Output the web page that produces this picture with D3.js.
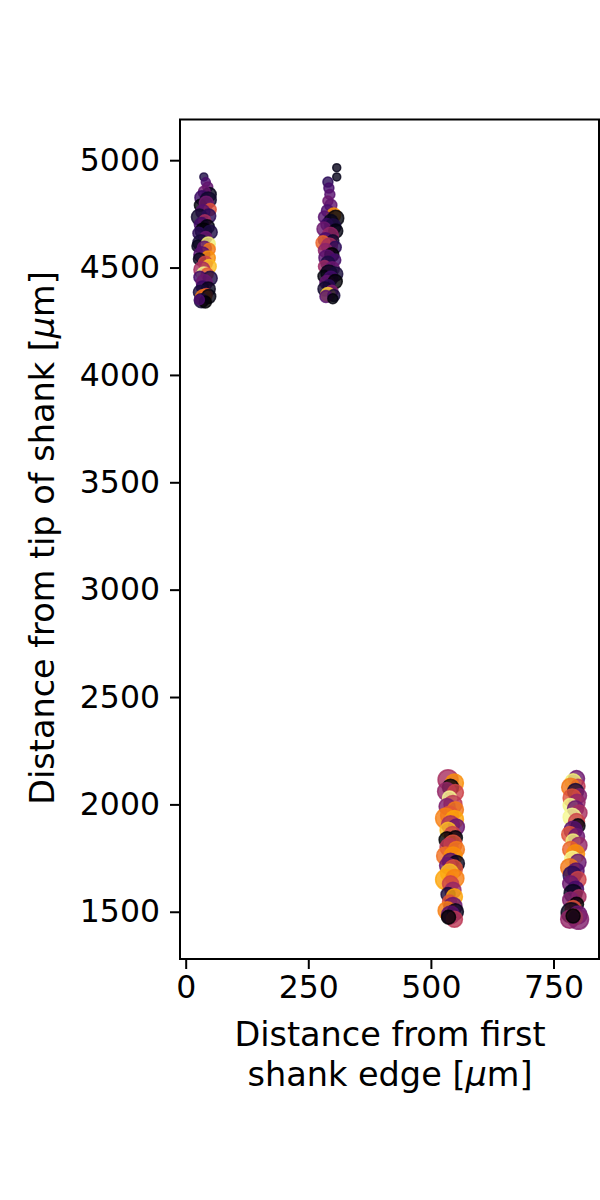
<!DOCTYPE html>
<html>
<head>
<meta charset="utf-8">
<script src="https://cdn.jsdelivr.net/npm/d3@7"></script>
<style>
  body { margin: 0; padding: 0; background: #fff; overflow: hidden; }
  text { font-family: "DejaVu Sans", sans-serif; fill: #000; }
</style>
</head>
<body>
<script>
// units per shank: x position [um], depth [um], marker radius [px], colour value (0..1, inferno)
const shank1X = [37,41,45,48,38,33,46,30,42,50,35,28,47,39,32,44,36,27,50,41,31,25,46,38,48,33,46,28,40,48,33,37,44,29,50,38,34,46,30,42,36,47,32,40,28];
const shank1Y = [4922,4898,4875,4840,4852,4825,4815,4790,4800,4770,4760,4735,4740,4718,4700,4690,4670,4660,4665,4640,4615,4600,4610,4590,4585,4560,4545,4540,4520,4505,4490,4470,4470,4455,4450,4430,4410,4400,4385,4375,4360,4365,4345,4340,4350];
const shank1R = [4,4.5,5,7,6,7,8,6,7,6,7,8,7,6,7,7,8,6,7,6,8,6,7,7,6,8,7,6,7,7,8,7,6,6,7,8,6,7,7,6,8,7,7,6,5];
const shank1C = [0.12,0.22,0.28,0.05,0.3,0.18,0.08,0.02,0.32,0.6,0.25,0.08,0.15,0.45,0.2,0.03,0.01,0.15,0.12,0.3,0.1,0.05,0.95,0.28,0.7,0.25,0.75,0.05,0.55,0.85,0.45,0.97,0.62,0.2,0.12,0.3,0.18,0.05,0.1,0.6,0.7,0.03,0.1,0.0,0.22];

const shank2X = [308,308,290,292,294,290,296,289,302,283,306,296,288,300,282,306,295,285,300,280,293,305,285,298,288,304,290,283,299,292,306,282,296,288,305,292,284,298,290,302,286,300];
const shank2Y = [4965,4922,4898,4870,4840,4810,4790,4765,4745,4735,4730,4715,4700,4690,4680,4670,4650,4630,4625,4615,4600,4595,4580,4560,4545,4535,4520,4505,4495,4475,4470,4460,4450,4430,4435,4415,4400,4390,4375,4370,4365,4355];
const shank2R = [4,4,5,5,5,5,6,6,7,6,8,7,6,8,7,7,8,7,6,7,8,6,7,7,8,6,7,6,7,8,7,6,7,7,7,6,7,6,7,6,6,5];
const shank2C = [0.05,0.05,0.15,0.2,0.25,0.3,0.28,0.22,0.75,0.25,0.02,0.05,0.18,0.12,0.3,0.03,0.4,0.22,0.08,0.65,0.45,0.15,0.38,0.0,0.25,0.2,0.12,0.42,0.3,0.05,0.1,0.02,0.2,0.28,0.01,0.15,0.08,0.35,0.88,0.1,0.25,0.02];

const shank3X = [535,548,540,532,550,538,545,533,550,538,530,548,540,552,535,544,550,533,545,537,552,530,545,540,552,534,546,538,530,549,540,545,535,548,538,545,533,550,540,548,536];
const shank3Y = [2115,2100,2080,2060,2055,2030,2000,1990,1975,1950,1935,1930,1905,1895,1880,1860,1845,1835,1815,1800,1790,1760,1760,1735,1725,1715,1700,1680,1650,1655,1630,1600,1580,1570,1545,1525,1505,1500,1485,1465,1475];
const shank3R = [10,9,8,9,8,7,9,8,8,9,10,9,9,8,8,8,7,8,9,9,8,9,9,8,8,8,9,9,10,9,8,8,7,8,7,9,9,8,9,8,7];
const shank3C = [0.45,0.75,0.02,0.4,0.55,0.98,0.5,0.35,0.7,0.62,0.72,0.8,0.45,0.3,0.85,0.55,0.02,0.0,0.6,0.5,0.7,0.68,0.75,0.25,0.05,0.3,0.6,0.85,0.8,0.72,0.55,0.4,0.1,0.8,0.6,0.3,0.72,0.05,0.25,0.5,0.0];

const shank4X = [797,790,800,785,795,803,788,798,784,795,802,788,797,800,790,783,797,790,802,785,795,789,800,783,796,788,800,785,795,790,802,785,797,790,786,800,793,783,801,790];
const shank4Y = [2120,2105,2085,2080,2060,2040,2030,2010,1995,1980,1960,1940,1920,1900,1880,1860,1850,1830,1810,1790,1770,1745,1730,1705,1690,1670,1650,1630,1605,1585,1570,1555,1535,1515,1495,1485,1475,1465,1465,1480];
const shank4R = [8,8,7,9,8,7,9,8,7,8,8,9,8,7,9,8,8,7,8,8,9,8,8,9,8,9,8,8,8,9,7,8,7,8,10,9,8,9,10,7];
const shank4C = [0.3,0.95,0.5,0.7,0.1,0.35,0.6,0.4,0.97,0.3,0.45,0.98,0.55,0.02,0.25,0.6,0.3,0.96,0.4,0.65,0.75,0.98,0.3,0.7,0.25,0.15,0.55,0.3,0.2,0.05,0.45,0.35,0.0,0.6,0.05,0.3,0.75,0.4,0.35,0.0];

const xTicks = [0, 250, 500, 750];
const yTicks = [1500, 2000, 2500, 3000, 3500, 4000, 4500, 5000];

const shanks = [
  [shank1X, shank1Y, shank1R, shank1C],
  [shank2X, shank2Y, shank2R, shank2C],
  [shank3X, shank3Y, shank3R, shank3C],
  [shank4X, shank4Y, shank4R, shank4C]
];
const points = shanks.flatMap(s => s[0].map((x, i) => ({x: x, y: s[1][i], r: s[2][i], c: s[3][i]})));

const width = 600, height = 1200;
const plotLeft = 180, plotRight = 599, plotTop = 119.5, plotBottom = 959;

const svg = d3.select("body").append("svg")
  .attr("width", width)
  .attr("height", height);

const x = d3.scaleLinear().domain([-11.6, 842.8]).range([plotLeft, plotRight]);
const y = d3.scaleLinear().domain([1280, 5189.5]).range([plotBottom, plotTop]);

svg.append("g")
  .selectAll("circle")
  .data(points)
  .enter().append("circle")
  .attr("cx", d => x(d.x))
  .attr("cy", d => y(d.y))
  .attr("r", d => d.r)
  .style("fill", d => d3.interpolateInferno(d.c))
  .style("stroke", d => d3.interpolateInferno(d.c))
  .style("stroke-width", 1.5)
  .style("fill-opacity", 0.8)
  .style("stroke-opacity", 0.8);

// axes
const xAxis = svg.append("g")
  .attr("transform", `translate(0,${plotBottom})`)
  .call(d3.axisBottom(x).tickValues(xTicks).tickSize(10).tickPadding(7));
const yAxis = svg.append("g")
  .attr("transform", `translate(${plotLeft},0)`)
  .call(d3.axisLeft(y).tickValues(yTicks).tickSize(10).tickPadding(10).tickFormat(d3.format("d")));

[xAxis, yAxis].forEach(a => {
  a.select(".domain").remove();
  a.selectAll("line").attr("stroke", "#000").attr("stroke-width", 2);
  a.selectAll("text").style("font-size", "31.5px").style("font-family", "DejaVu Sans");
});

svg.append("rect")
  .attr("x", plotLeft).attr("y", plotTop)
  .attr("width", plotRight - plotLeft).attr("height", plotBottom - plotTop)
  .attr("fill", "none").attr("stroke", "#000").attr("stroke-width", 2);

// labels
const xl = svg.append("text")
  .attr("text-anchor", "middle")
  .style("font-size", "33.5px");
xl.append("tspan").attr("x", 390).attr("y", 1046).text("Distance from first");
const t2 = xl.append("tspan").attr("x", 390).attr("y", 1086);
t2.append("tspan").text("shank edge [");
t2.append("tspan").style("font-style", "italic").text("μ");
t2.append("tspan").text("m]");

const yl = svg.append("text")
  .attr("text-anchor", "middle")
  .attr("transform", "translate(54,538) rotate(-90)")
  .style("font-size", "33.5px");
yl.append("tspan").text("Distance from tip of shank [");
yl.append("tspan").style("font-style", "italic").text("μ");
yl.append("tspan").text("m]");
</script>
</body>
</html>
